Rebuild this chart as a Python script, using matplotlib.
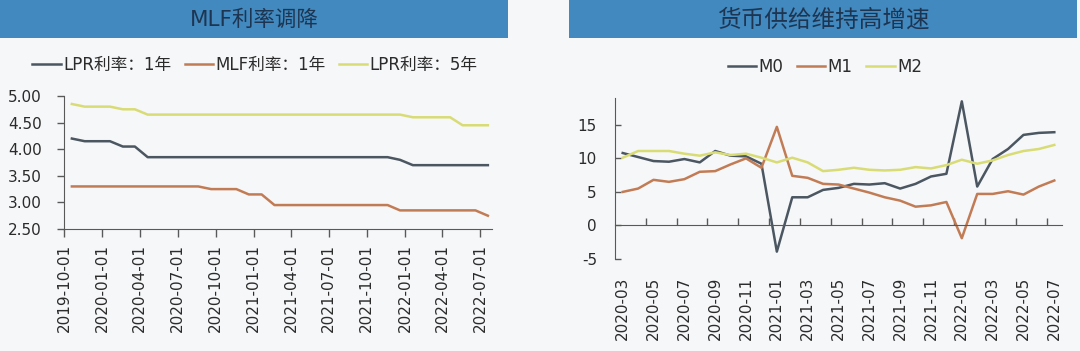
import matplotlib

matplotlib.use("Agg")
import matplotlib.pyplot as plt
import pandas as pd
from matplotlib.patches import Rectangle

plt.rcParams["font.family"] = ["DejaVu Sans", "Noto Sans CJK SC"]
plt.rcParams["axes.unicode_minus"] = False

BG = "#f6f7f9"
BAR = "#4189be"
TITLE_TXT = "#1e3552"
DARK = "#4b5661"
ORANGE = "#c27c55"
YELLOW = "#d9dc74"
AXIS = "#595959"
TEXT = "#2b2b2b"

# left panel: monthly fixings (20th), 2019-10 .. 2022-07
rate_dates = pd.date_range("2019-10-01", "2022-07-01", freq="MS") + pd.Timedelta(days=19)
lpr_1y = [4.20, 4.15, 4.15, 4.15, 4.05, 4.05, 3.85, 3.85, 3.85, 3.85,
          3.85, 3.85, 3.85, 3.85, 3.85, 3.85, 3.85, 3.85, 3.85, 3.85,
          3.85, 3.85, 3.85, 3.85, 3.85, 3.85, 3.80, 3.70, 3.70, 3.70,
          3.70, 3.70, 3.70, 3.70]
mlf_1y = [3.30, 3.30, 3.30, 3.30, 3.30, 3.30, 3.30, 3.30, 3.30, 3.30,
          3.30, 3.25, 3.25, 3.25, 3.15, 3.15, 2.95, 2.95, 2.95, 2.95,
          2.95, 2.95, 2.95, 2.95, 2.95, 2.95, 2.85, 2.85, 2.85, 2.85,
          2.85, 2.85, 2.85, 2.75]
lpr_5y = [4.85, 4.80, 4.80, 4.80, 4.75, 4.75, 4.65, 4.65, 4.65, 4.65,
          4.65, 4.65, 4.65, 4.65, 4.65, 4.65, 4.65, 4.65, 4.65, 4.65,
          4.65, 4.65, 4.65, 4.65, 4.65, 4.65, 4.65, 4.60, 4.60, 4.60,
          4.60, 4.45, 4.45, 4.45]
rate_ticks = pd.date_range("2019-10-01", "2022-07-01", freq="QS-OCT")
rate_yticks = [2.5, 3.0, 3.5, 4.0, 4.5, 5.0]

# right panel: money supply yoy growth (%)
money_months = ["2020-03", "2020-04", "2020-05", "2020-06", "2020-07", "2020-08",
                "2020-09", "2020-10", "2020-11", "2020-12", "2021-01", "2021-02",
                "2021-03", "2021-04", "2021-05", "2021-06", "2021-07", "2021-08",
                "2021-09", "2021-10", "2021-11", "2021-12", "2022-01", "2022-02",
                "2022-03", "2022-04", "2022-05", "2022-06", "2022-07"]
m0 = [10.8, 10.2, 9.6, 9.5, 9.9, 9.4, 11.1, 10.4, 10.3, 9.2, -3.9, 4.2, 4.2, 5.3, 5.6,
      6.2, 6.1, 6.3, 5.5, 6.2, 7.3, 7.7, 18.5, 5.8, 9.9, 11.4, 13.5, 13.8, 13.9]
m1 = [5.0, 5.5, 6.8, 6.5, 6.9, 8.0, 8.1, 9.1, 10.0, 8.6, 14.7, 7.4, 7.1, 6.2, 6.1,
      5.5, 4.9, 4.2, 3.7, 2.8, 3.0, 3.5, -1.9, 4.7, 4.7, 5.1, 4.6, 5.8, 6.7]
m2 = [10.1, 11.1, 11.1, 11.1, 10.7, 10.4, 10.9, 10.5, 10.7, 10.1, 9.4, 10.1, 9.4, 8.1, 8.3,
      8.6, 8.3, 8.2, 8.3, 8.7, 8.5, 9.0, 9.8, 9.2, 9.7, 10.5, 11.1, 11.4, 12.0]
money_yticks = [-5, 0, 5, 10, 15]

W, H = 1080, 351
fig = plt.figure(figsize=(W / 100, H / 100), dpi=100, facecolor=BG)


def title_bar(x0, x1, text, size):
    fig.patches.append(Rectangle((x0 / W, 1 - 38 / H), (x1 - x0) / W, 38 / H,
                                 transform=fig.transFigure, facecolor=BAR, edgecolor="none"))
    fig.text((x0 + x1) / 2 / W, 1 - 20 / H, text, ha="center", va="center",
             fontsize=size, color=TITLE_TXT)


title_bar(0, 508, "MLF利率调降", 15.5)
title_bar(569, 1077, "货币供给维持高增速", 17)

# ---- left: LPR / MLF
ax1 = fig.add_axes([64 / W, 1 - 229 / H, (492 - 64) / W, (229 - 96) / H])
ax1.set_facecolor("none")
ax1.plot(rate_dates, lpr_1y, color=DARK, lw=1.8, label="LPR利率：1年")
ax1.plot(rate_dates, mlf_1y, color=ORANGE, lw=1.8, label="MLF利率：1年")
ax1.plot(rate_dates, lpr_5y, color=YELLOW, lw=1.8, label="LPR利率：5年")
ax1.set_xlim(pd.Timestamp("2019-10-01"), pd.Timestamp("2022-07-30"))
ax1.set_ylim(2.5, 5.0)
ax1.set_yticks(rate_yticks, labels=[f"{v:.2f}" for v in rate_yticks])
ax1.set_xticks(rate_ticks, labels=[d.strftime("%Y-%m-%d") for d in rate_ticks])
ax1.tick_params(axis="x", direction="out", length=6, width=1, color=AXIS, pad=5,
                labelrotation=90, labelsize=11, labelcolor=TEXT)
ax1.tick_params(axis="y", direction="out", length=5, width=1, color=AXIS, pad=11,
                labelsize=11, labelcolor=TEXT)
for side in ("top", "right"):
    ax1.spines[side].set_visible(False)
for side in ("left", "bottom"):
    ax1.spines[side].set_color(AXIS)
ax1.legend(loc="center", bbox_to_anchor=(255 / W, 1 - 65 / H), bbox_transform=fig.transFigure,
           ncol=3, frameon=False, fontsize=12, handlelength=1.7, handletextpad=0.15,
           columnspacing=0.8, labelcolor=TEXT)

# ---- right: M0 / M1 / M2
ax2 = fig.add_axes([615 / W, 1 - 259 / H, (1062 - 615) / W, (259 - 98) / H])
ax2.set_facecolor("none")
xs = range(len(money_months))
ax2.plot(xs, m0, color=DARK, lw=1.8, label="M0")
ax2.plot(xs, m1, color=ORANGE, lw=1.8, label="M1")
ax2.plot(xs, m2, color=YELLOW, lw=1.8, label="M2")
ax2.set_xlim(-0.5, len(money_months) - 0.5)
ax2.set_ylim(-5, 19)
ax2.set_yticks(money_yticks)
ax2.tick_params(axis="y", direction="in", length=4, width=1, color=AXIS, pad=13,
                labelsize=11, labelcolor=TEXT)
ax2.spines["bottom"].set_position(("data", 0))
for side in ("top", "right"):
    ax2.spines[side].set_visible(False)
for side in ("left", "bottom"):
    ax2.spines[side].set_color(AXIS)
ax2.set_xticks([i + 0.5 for i in range(1, len(money_months) - 1, 2)], labels=[])
ax2.tick_params(axis="x", direction="in", length=5, width=1, color=AXIS)

sec = ax2.secondary_xaxis("bottom")
sec.set_xticks(list(range(0, len(money_months), 2)), labels=money_months[::2])
sec.tick_params(length=0, pad=13, labelrotation=90, labelsize=11, labelcolor=TEXT)
sec.spines["bottom"].set_visible(False)

ax2.legend(loc="center", bbox_to_anchor=(825 / W, 1 - 67 / H), bbox_transform=fig.transFigure,
           ncol=3, frameon=False, fontsize=12, handlelength=1.7, handletextpad=0.15,
           columnspacing=0.8, labelcolor=TEXT)

fig.savefig("out.png", dpi=100, facecolor=BG)
